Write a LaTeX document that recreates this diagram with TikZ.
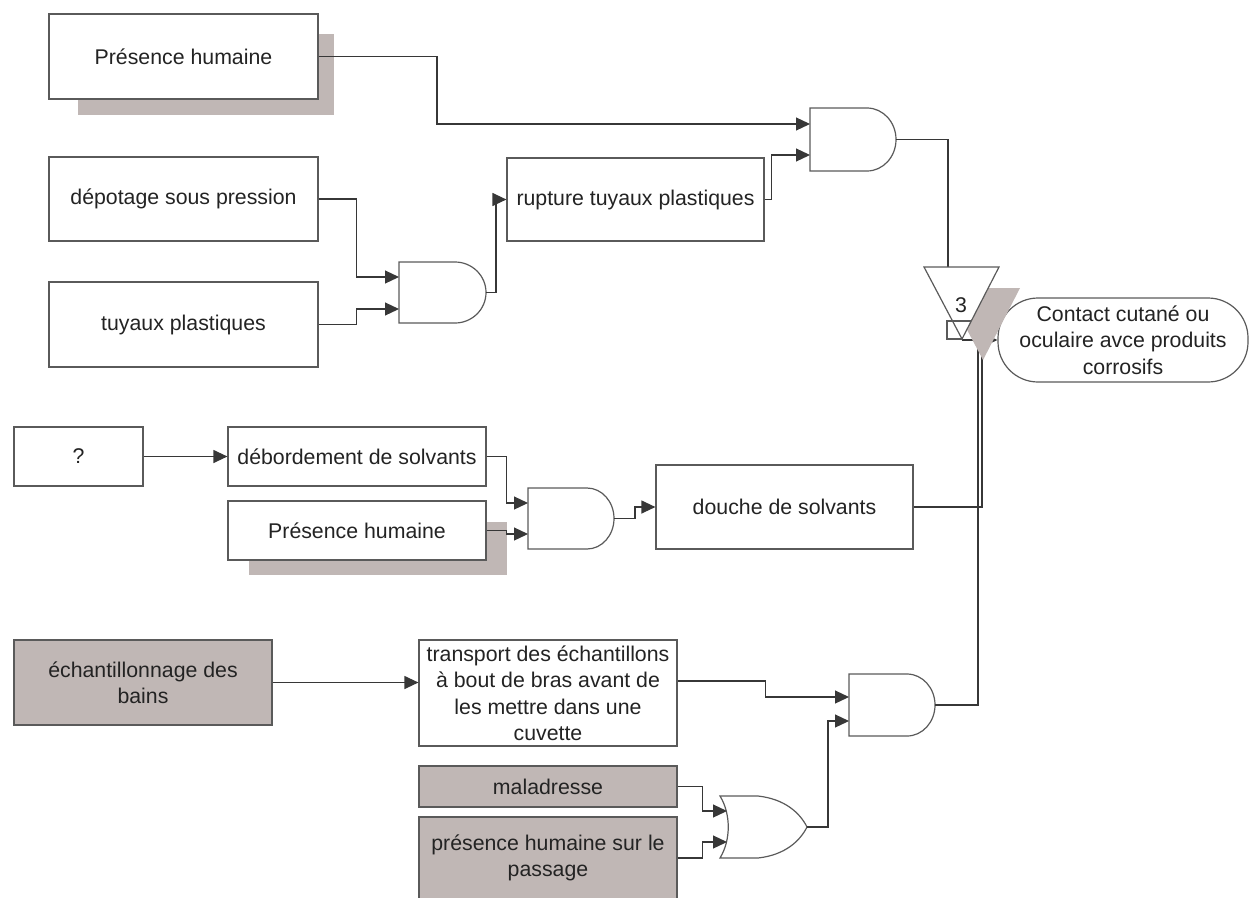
\documentclass[tikz,border=0pt]{standalone}
\usepackage{fontspec}
\setmainfont{Liberation Sans}
\usetikzlibrary{arrows.meta}
\definecolor{shd}{RGB}{192,183,181}
\definecolor{ln}{RGB}{55,55,55}
\definecolor{bd}{RGB}{90,90,90}
\definecolor{tx}{RGB}{35,35,35}
\begin{document}
\begin{tikzpicture}[x=1pt,y=-1pt,
  box/.style={draw=bd, line width=1.2pt, fill=white, inner sep=0pt, align=center, text=tx,
    font=\fontsize{21.3}{26.5}\selectfont},
  graybox/.style={box, fill=shd},
  gate/.style={draw=bd, line width=1.2pt, fill=white},
  conn/.style={draw=ln, line width=1.2pt},
  arr/.style={conn, -{Triangle[length=14pt,width=13pt]}}]
\useasboundingbox (0,0) rectangle (1249,897);
% shadows
\fill[shd] (78,34) rectangle (334,115);
\fill[shd] (249,522) rectangle (507,575);
% boxes
\node[box, minimum width=269pt, minimum height=85pt] (ph1) at (183.5,56.5) {Présence humaine};
\node[box, minimum width=269pt, minimum height=84pt] (dep) at (183.5,199) {dépotage sous pression};
\node[box, minimum width=269pt, minimum height=85pt] (tuy) at (183.5,324.5) {tuyaux plastiques};
\node[box, minimum width=257pt, minimum height=83pt] (rup) at (635.5,199.5) {rupture tuyaux plastiques};
\node[box, minimum width=129pt, minimum height=59pt] (q) at (78.5,456.5) {?};
\node[box, minimum width=258pt, minimum height=59pt] (deb) at (357,456.5) {débordement de solvants};
\node[box, minimum width=258pt, minimum height=59pt] (ph2) at (357,530.5) {Présence humaine};
\node[box, minimum width=257pt, minimum height=84pt] (dou) at (784.5,507) {douche de solvants};
\node[graybox, minimum width=258pt, minimum height=85pt] (ech) at (143,682.5) {échantillonnage des\\bains};
\node[box, minimum width=258pt, minimum height=106pt] (tra) at (548,693) {transport des échantillons\\à bout de bras avant de\\les mettre dans une\\cuvette};
\node[graybox, minimum width=258pt, minimum height=41pt] (mal) at (548,786.5) {maladresse};
\node[graybox, minimum width=258pt, minimum height=82pt] (pre) at (548,858) {présence humaine sur le\\passage};
\node[box, rounded corners=40pt, minimum width=250pt, minimum height=84pt] (ct) at (1123,340) {Contact cutané ou\\oculaire avce produits\\corrosifs};
% gates
\draw[gate] (810,108) -- (867,108) arc[start angle=90,end angle=-90,x radius=29pt,y radius=31.5pt] -- (810,171) -- cycle;
\coordinate (g1a) at (810,124); \coordinate (g1b) at (810,155); \coordinate (g1o) at (896,139.5);
\draw[gate] (399,262) -- (455,262) arc[start angle=90,end angle=-90,x radius=31pt,y radius=30.5pt] -- (399,323) -- cycle;
\coordinate (g2a) at (399,277); \coordinate (g2b) at (399,309); \coordinate (g2o) at (486,292.5);
\draw[gate] (528,488) -- (587,488) arc[start angle=90,end angle=-90,x radius=27pt,y radius=30.5pt] -- (528,549) -- cycle;
\coordinate (g3a) at (528,503); \coordinate (g3b) at (528,534); \coordinate (g3o) at (614,518.5);
\draw[gate] (849,674) -- (907,674) arc[start angle=90,end angle=-90,x radius=28pt,y radius=31pt] -- (849,736) -- cycle;
\coordinate (g4a) at (849,697); \coordinate (g4b) at (849,721); \coordinate (g4o) at (935,705);
\draw[gate] (720,796) -- (758,796) .. controls (785,799) and (800,813) .. (807,827)
  .. controls (800,841) and (785,855) .. (758,858) -- (720,858)
  .. controls (731,840) and (731,814) .. (720,796) -- cycle;
\coordinate (o1a) at (727,811); \coordinate (o1b) at (727,842); \coordinate (o1o) at (807,827);
% triangle points
\coordinate (tin) at (948,267);
\coordinate (v1) at (978,339);
\coordinate (v2) at (982,339);
\coordinate (tout) at (962,340);
% connectors
\draw[arr] (ph1.east) -- (437,56.5) |- (g1a);
\draw[arr] (rup.east) -- ++(7,0) |- (g1b);
\draw[arr] (dep.east) -- ++(38,0) |- (g2a);
\draw[arr] (tuy.east) -- ++(38,0) |- (g2b);
\draw[arr] (g2o) -- ++(10,0) |- (rup.west);
\draw[conn] (g1o) -| (tin);
\draw[arr] (q.east) -- (deb.west);
\draw[arr] (deb.east) -- ++(20,0) |- (g3a);
\draw[arr] (ph2.east) -- ++(20,0) |- (g3b);
\draw[arr] (g3o) -- ++(21,0) |- (dou.west);
\draw[conn] (dou.east) -| (v2);
\draw[arr] (ech.east) -- ([yshift=10.5pt]tra.west);
\draw[arr] ([yshift=12pt]tra.east) -- ++(88,0) |- (g4a);
\draw[arr] (mal.east) -- ++(25,0) |- (o1a);
\draw[arr] (pre.east) -- ++(25,0) |- (o1b);
\draw[arr] (o1o) -- ++(21,0) |- (g4b);
\draw[conn] (g4o) -| (v1);
\draw[arr] (tout) -- (ct.west);
% transfer triangle
\fill[shd] (945,288) -- (1020,288) -- (983,360) -- cycle;
\draw[gate] (924,267) -- (999,267) -- (962,339) -- cycle;
\draw[draw=bd, line width=1.2pt] (971,321) -- (947,321) -- (947,339) -- (962,339);
\node[text=tx, font=\fontsize{21.3}{26.5}\selectfont] (n3) at (961,305) {3};
\end{tikzpicture}
\end{document}
